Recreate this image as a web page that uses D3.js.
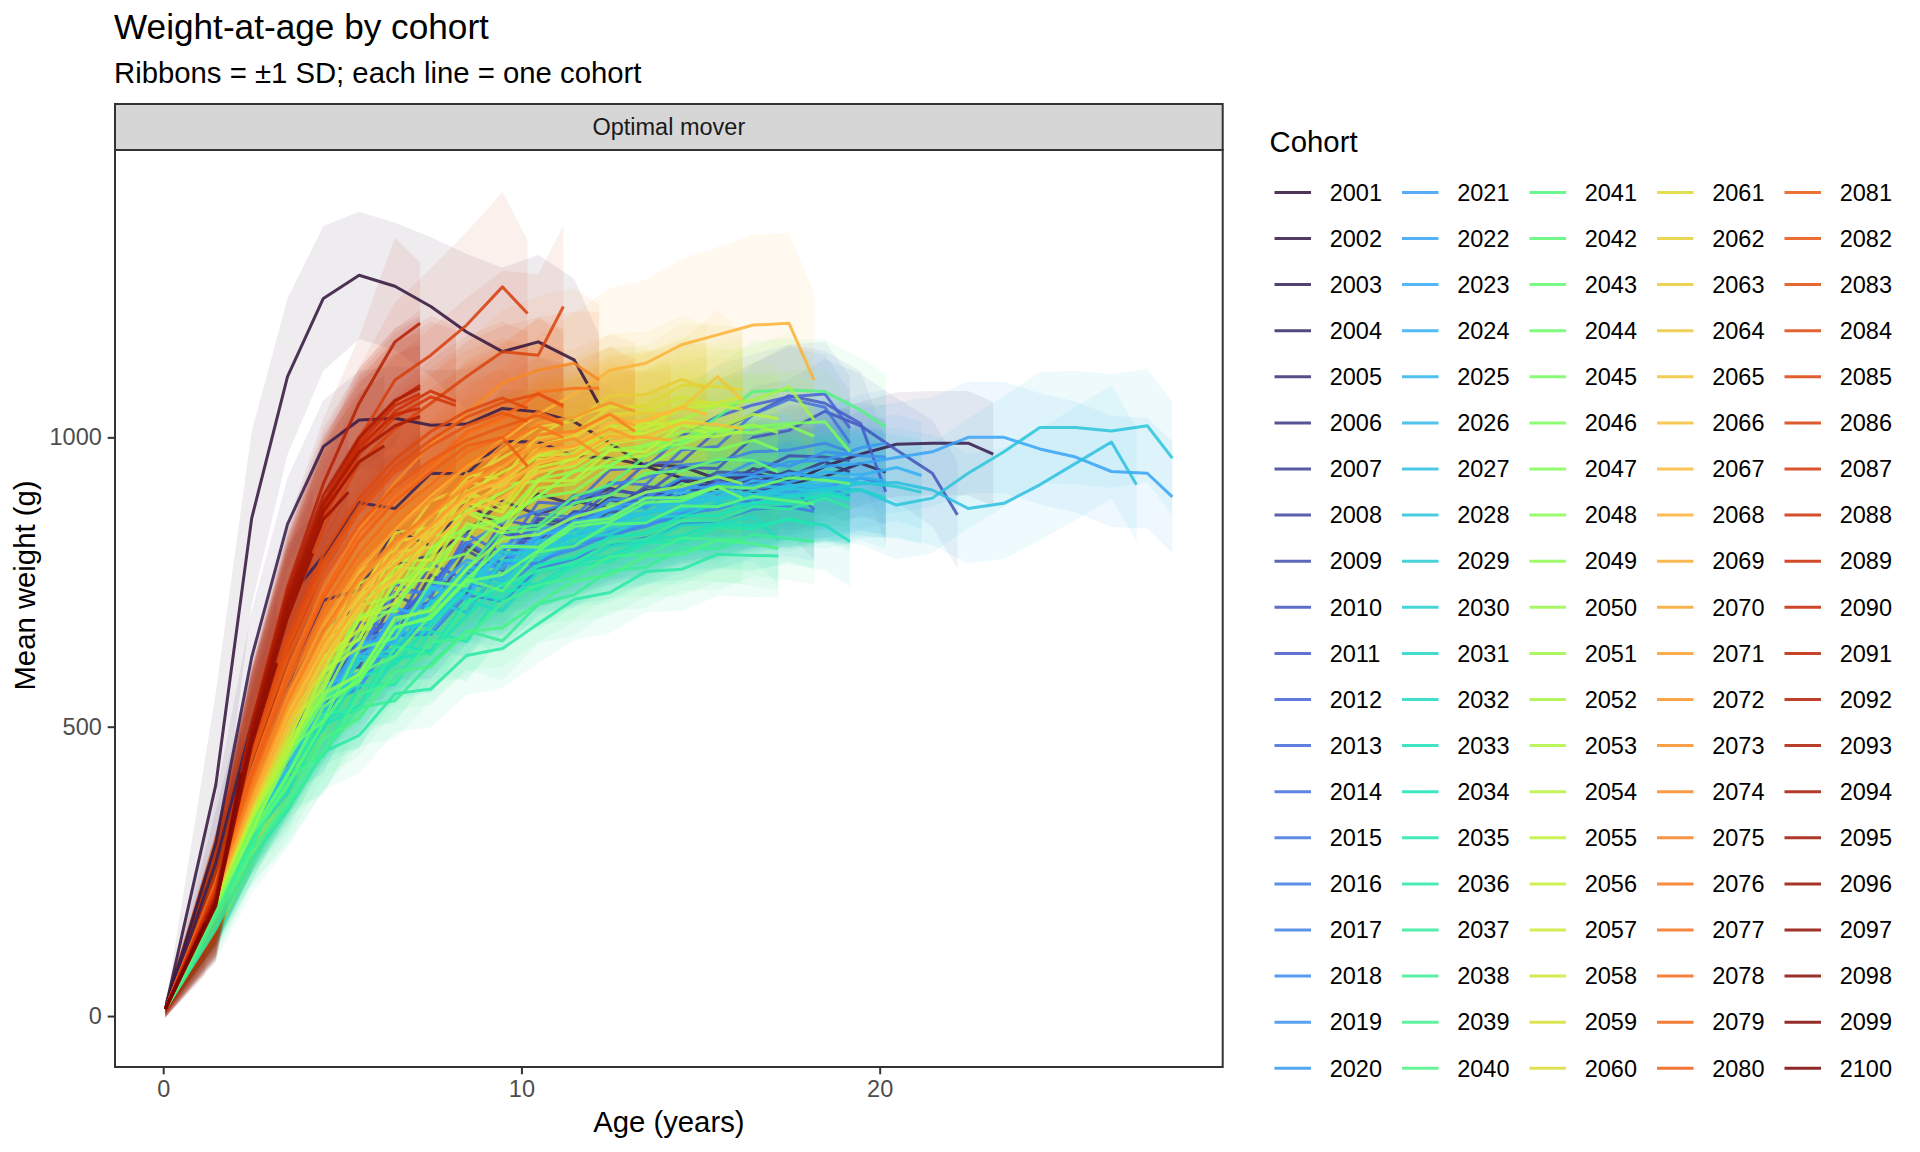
<!DOCTYPE html>
<html><head><meta charset="utf-8">
<script src="https://cdn.jsdelivr.net/npm/d3@7"></script>
<style>body{margin:0;background:#fff} svg text{font-family:"Liberation Sans",Arial,Helvetica,sans-serif}</style>
</head><body><svg id="c" width="1920" height="1152"></svg>
<script>
const cohorts = d3.range(2001, 2101);
const ageMid = [0.06,1.47,2.47,3.47,4.47,5.47,6.47,7.47,8.47,9.47,10.47,11.47,12.47,13.47,14.47,15.47,16.47,17.47,18.47,19.47,20.47,21.47,22.47,23.47,24.47,25.47,26.47,27.47,28.47];
const ageFinal = [0.06,1.17,2.17,3.17,4.17,5.17,6.17,7.17,8.17,9.17,10.17,11.17,12.17,13.17,14.17,15.17,16.17,17.17,18.17,19.17,20.17,21.17,22.17,23.17,24.17,25.17,26.17,27.17,28.17];
const xTicks = [0,10,20];
const yTicks = [0,500,1000];
const xLimits = [-1.3455, 29.5755];
const yLimits = [-88, 1496.5];
const turboStops = ["#30123B","#4662D7","#36AAF9","#1AE4B6","#72FE5E","#C7EF34","#FABA39","#F66B19","#CB2A04","#7A0403"];

const weights = [
[12,400,860,1105,1240,1280,1261,1226,1182,1148,1165,1134,1056],
[12,300,620,850,984,1030,1033,1021,1023,1050,1044,1027,990,950,930,920,915,920,950,971,988,990,990,971],
[12,265,505,720,795,887,877,938,937,993,992,968,964,952,950,928,936,920,932,955,940],
[12,232,428,570,718,737,840,812,887,845,902,884,912,898,926,912,938,924,930],
[12,222,398,566,667,710,782,795,836,890,866,890,878,910,894,918,906,912],
[12,206,355,453,575,655,685,743,812,782,858,852,896,888,926,912,946,932,958,940],
[12,198,335,492,530,665,657,762,731,835,822,870,864,906,898,928,920,942,930],
[12,208,350,438,592,603,727,700,805,770,852,846,892,878,916,902,930,915],
[12,200,332,480,570,620,688,717,765,840,822,872,870,915,908,940,938,968,966,960],
[12,205,350,447,570,647,688,741,818,780,860,856,908,902,948,946,1000,1012,1045,1020,978,938,866],
[12,208,342,502,540,680,673,782,753,857,846,900,900,955,958,1012,1040,1072,1059,1024,906],
[12,212,365,450,610,619,747,724,833,799,888,884,944,948,1002,1036,1056,1070,1075,1016],
[12,195,325,480,565,616,682,717,758,835,812,868,860,904,890,924,910,920,875],
[12,208,356,445,575,647,690,743,820,782,868,862,922,918,978,984,1040,1066,1052,990],
[12,195,322,460,500,623,625,722,697,783,782,815,828,850,862,885,890,912,915,930,920],
[12,190,318,410,535,567,657,660,727,717,772,790,815,826,850,856,876,880,872],
[12,205,350,488,600,630,732,733,816,852,872,888,918,930,952,958,975,978,990,975],
[12,192,325,423,520,615,625,705,748,738,788,806,832,846,868,876,895,900,912,900],
[12,200,345,478,540,643,675,740,753,811,842,850,892,896,930,928,958,950,975,968,966],
[12,202,335,445,565,613,693,712,773,783,826,866,874,905,908,934,936,958,960,982,990],
[12,190,320,445,547,568,662,663,738,780,790,812,838,852,872,882,898,905,918,910],
[12,200,340,440,550,640,662,733,788,772,836,846,880,888,912,915,932,935,950,955,965,975,1000,1000,980,966,941,938,897],
[12,195,328,475,518,645,647,744,723,815,812,856,858,895,892,920,915,938,930,928],
[12,198,338,428,572,593,705,688,781,759,832,840,876,878,905,902,925,922,940,935,948,934],
[12,192,322,450,557,580,675,675,752,795,806,828,852,868,880,895,900,915,918,930,925],
[12,194,332,425,540,623,652,713,778,752,822,828,866,868,898,895,918,912,930,922,918],
[12,195,325,472,515,643,643,740,720,810,808,852,855,885,884,906,900,918,912,920,922,909,877,886,918,955,992,918],
[12,192,330,420,562,585,693,680,770,750,820,830,862,866,892,890,908,900,912,909,883,895,938,975,1017,1017,1011,1020,964],
[12,190,322,455,550,588,668,683,742,802,798,838,842,872,874,896,894,912,906,922,915,905],
[12,188,325,415,525,613,636,703,762,742,806,818,850,855,880,880,900,895,910,895],
[12,192,316,458,495,621,623,718,697,787,788,828,832,862,864,886,884,900,896,910,895],
[12,182,308,385,515,535,640,630,717,700,768,780,812,820,848,850,863,823],
[12,180,296,418,503,533,617,629,692,748,746,784,795,822,830,850,848,857,848,820],
[12,190,314,395,499,585,608,677,736,718,780,792,828,834,864,865,888,885,902,892],
[12,178,292,420,450,571,573,665,647,735,738,778,786,818,820,845,842,860,848],
[12,150,272,355,456,485,557,565,623,635,678,720,732,768,772,798,796,795],
[12,186,308,414,521,530,638,625,714,745,770,782,818,824,856,856,880,876,895,878],
[12,158,288,361,455,533,545,609,666,648,712,728,770,775,808,808,832,825,820],
[12,176,296,408,455,555,579,646,653,715,745,758,794,798,826,824,822],
[12,168,285,370,478,515,595,604,665,671,714,752,762,795,798,822,816,808],
[12,198,322,458,550,592,682,705,772,842,848,898,918,968,990,1035,1079,1082,1079,1047,1018],
[12,184,314,397,507,593,622,693,754,735,802,812,850,852,882,880,898,890,885],
[12,195,325,460,510,635,653,750,743,835,842,886,900,938,942,962,960,940],
[12,194,316,416,534,583,671,690,751,763,804,846,854,888,890,915,912,930,926,920],
[12,192,322,442,545,578,672,687,755,812,810,852,860,895,896,915,895],
[12,202,335,463,563,693,700,809,844,860,898,942,952,988,995,1015,1018,1024,1027,975],
[12,196,338,476,550,665,707,782,799,861,896,906,948,950,982,978,995,978],
[12,204,340,458,592,653,747,774,841,855,898,942,950,985,988,1010,1008,1020,1002],
[12,190,318,450,557,590,688,700,772,825,832,862,880,905,915,932,920],
[12,206,352,457,587,687,728,803,872,858,928,940,978,985,1010,1012,1022,1008],
[12,205,346,508,564,709,725,834,823,919,924,968,982,1018,1030,1056,1064,1087,1030],
[12,198,340,450,596,637,753,752,851,835,912,920,962,968,1000,1002,1010],
[12,206,356,488,623,650,776,771,874,905,940,950,990,998,1022,1008],
[12,200,344,457,575,685,714,795,870,842,925,925,978,975,1022,1015,1040,1032],
[12,208,358,518,592,725,763,845,867,925,968,972,1020,1018,1050,1056,1048],
[12,204,352,468,620,667,787,788,887,871,948,962,1000,1008,1030,1024],
[12,210,362,515,643,692,802,810,905,940,970,982,1015,1025,1022],
[12,206,355,477,597,715,750,830,908,878,962,962,1016,1015,1058,1060,1070],
[12,214,368,532,608,747,781,868,890,955,985,1002,1038,1045,1070,1060],
[12,215,372,500,660,720,835,844,937,927,1004,1036,1053,1053,1019],
[12,212,368,525,655,705,820,830,930,965,998,1008,1052,1055,1090,1088,1082],
[12,210,360,485,607,725,752,835,900,885,955,970,1005,1010],
[12,218,378,548,628,767,805,890,915,977,1018,1028,1072,1074,1100,1085],
[12,215,372,495,650,707,821,830,923,913,985,1000,1036,1042,1040],
[12,212,372,515,628,715,780,835,880,920,955,985,1012,1030,1050,1105,1064],
[12,208,362,500,610,700,762,815,868,895,940,955,992,1000,1025,1022,1015],
[12,214,375,520,638,730,792,845,900,925,975,985,1025,1030,1052,1040],
[12,220,395,550,675,770,840,900,950,995,1040,1075,1116,1128,1160,1177,1194,1197,1099],
[12,210,368,512,625,715,780,825,885,910,958,968,1002,1000,995],
[12,218,385,538,658,752,815,862,922,948,995,1008,1040,1020],
[12,215,380,530,645,738,800,848,905,930,978,985,1015,998],
[12,224,396,552,678,775,840,890,950,975,1025,1035,1060,1045],
[12,220,388,540,662,755,818,868,915,955,985,998,970],
[12,232,425,596,735,840,922,988,1042,1094,1116,1128,1099],
[12,222,392,545,665,760,822,870,935,955,1005,1010,1040,1010],
[12,226,402,562,690,785,850,905,955,992,1020,1000],
[12,230,420,590,725,825,895,945,1005,1030,1078,1085,1085],
[12,228,410,575,705,800,870,918,975,1000,1045,1025],
[12,232,422,595,732,835,905,952,1010,1035,1075,1052],
[12,230,418,585,722,820,890,940,985,1000,950],
[12,222,445,620,755,850,915,960,995,1018,1038,1022],
[12,220,452,635,775,872,940,985,1020,1042,1028],
[12,224,460,645,785,882,950,995,1035,1060,1075,1055],
[12,218,465,655,798,895,962,1010,1045,1068,1050],
[12,218,482,686,842,955,1015,1059,1105,1148,1142,1226],
[12,220,488,698,868,998,1099,1142,1194,1260,1214],
[12,215,490,700,860,970,1035,1070,1055],
[12,212,492,706,868,978,1045,1080,1062],
[12,210,494,712,876,990,1055,1075],
[12,208,496,716,880,985,1040,1050],
[12,206,500,722,888,998,1062,1090],
[12,205,505,740,920,1059,1165,1197],
[12,203,500,730,900,1000,1064,1085],
[12,200,495,720,885,975,1020,1036],
[12,200,490,712,872,958,985],
[12,198,486,702,858,905],
[12,196,478,688,800],
[12,194,468,610],
[12,190,420],
[12,160]
];

const sds = [
[6,160,150,135,125,110,110,120,135,145,150,140,120],
[6,80,80,80,80,85,90,95,95,95,95,95,95,95,90,90,90,90,90,90,90,90,90,90],
[6,90,95,95,95,90,90,90,90,90,90,90,90,90,90,90,90,90,90,90,90],
[6,80,85,85,85,85,85,85,85,85,85,85,85,85,85,85,85,85,85],
[6,75,80,80,80,80,80,80,80,80,80,80,80,80,80,80,80,80],
[6,70,75,78,80,80,80,80,80,80,80,80,82,82,84,84,86,86,88,88],
[6,68,74,78,80,80,80,80,80,80,80,80,82,82,84,84,86,86,86],
[6,70,75,78,80,80,80,80,80,80,80,80,82,82,84,84,86,86],
[6,68,74,78,80,80,80,80,80,80,80,82,82,84,84,86,86,88,88,88],
[6,70,75,78,80,80,80,80,80,80,82,82,84,84,86,86,88,88,90,90,90,92,92],
[6,68,74,78,80,80,80,80,80,80,82,82,84,84,86,86,88,88,90,90,90],
[6,70,75,78,80,80,80,80,80,82,82,84,84,86,86,88,88,90,90,90],
[6,68,74,78,78,78,78,78,78,80,80,80,82,82,84,84,86,86,86],
[6,70,75,78,80,80,80,80,80,82,82,84,84,86,86,88,88,90,90,90],
[6,68,74,78,80,80,80,80,80,80,82,82,84,84,86,86,88,88,88,90,90],
[6,68,72,76,78,78,78,78,78,80,80,80,82,82,84,84,84,86,86],
[6,70,74,78,80,80,80,80,80,80,82,82,84,84,86,86,88,88,88,88],
[6,68,74,78,80,80,80,80,80,80,82,82,84,84,86,86,86,88,88,88],
[6,70,75,78,80,80,80,80,80,80,82,82,84,84,86,86,88,88,90,90,90],
[6,70,75,80,82,82,82,82,82,84,84,86,86,88,88,90,90,92,92,92,92],
[6,68,74,78,80,80,80,80,80,82,82,84,84,86,86,88,88,88,90,90],
[6,70,75,80,82,82,82,82,84,84,86,86,88,88,90,90,92,92,94,94,95,95,96,96,96,96,96,96,96],
[6,68,74,78,80,80,80,80,82,82,84,84,86,86,88,88,88,90,90,90],
[6,70,75,80,82,82,82,82,84,84,86,86,88,88,90,90,90,92,92,92,92,92],
[6,68,74,78,80,80,80,82,82,84,84,86,86,88,88,90,90,90,92,92,92],
[6,68,74,78,80,80,80,82,82,84,84,86,86,88,88,90,90,90,92,92,92],
[6,68,74,78,80,80,80,82,82,84,84,86,86,88,88,90,90,92,92,94,94,95,95,96,96,98,98,98],
[6,68,74,78,80,80,80,82,82,84,84,86,86,88,88,90,90,92,92,94,94,95,95,96,96,98,98,98,98],
[6,66,72,76,78,78,78,80,80,82,82,84,84,86,86,88,88,88,90,90,90,90],
[6,66,72,76,78,78,78,80,80,82,82,84,84,86,86,86,88,88,88,88],
[6,64,70,74,76,76,76,78,78,80,80,82,82,84,84,86,86,86,88,88,88],
[6,60,65,68,70,70,70,70,72,72,72,74,74,74,76,76,76,76],
[6,60,65,68,70,70,70,70,72,72,72,74,74,74,76,76,76,76,78,78],
[6,60,65,68,70,70,70,70,72,72,72,74,74,74,76,76,76,76,78,78],
[6,58,62,66,68,68,68,68,70,70,70,72,72,72,74,74,74,74,76],
[6,55,60,64,66,66,66,66,68,68,68,70,70,70,72,72,72,72],
[6,58,62,66,68,68,68,68,70,70,70,72,72,72,74,74,74,74,76,76],
[6,55,60,64,66,66,66,66,68,68,68,70,70,70,72,72,72,72,74],
[6,58,62,66,68,68,68,68,70,70,70,72,72,72,74,74,74],
[6,56,60,64,66,66,66,66,68,68,68,70,70,70,72,72,72,72],
[6,62,68,72,75,76,78,80,80,82,82,84,84,86,86,88,88,88,90,90,90],
[6,60,65,68,70,70,70,70,72,72,72,74,74,74,76,76,76,76,78],
[6,60,65,68,70,70,70,70,72,72,72,74,74,74,76,76,76,76],
[6,62,66,70,72,72,72,72,74,74,74,76,76,76,78,78,78,78,80,80],
[6,60,65,68,70,70,70,70,72,72,72,74,74,74,76,76,76],
[6,65,72,78,82,84,85,86,86,86,88,88,88,90,90,90,92,92,92,92],
[6,65,72,78,82,84,85,86,86,86,88,88,88,90,90,90,92,92],
[6,66,74,80,84,86,86,86,88,88,88,90,90,90,92,92,92,92,92],
[6,65,72,78,82,84,85,86,86,86,88,88,88,90,90,90,90],
[6,66,74,80,84,86,86,86,88,88,88,90,90,90,92,92,92,92],
[6,68,76,82,86,88,88,88,90,90,90,92,92,92,94,94,94,94,94],
[6,66,74,80,84,86,86,86,88,88,88,90,90,90,92,92,92],
[6,68,76,82,86,88,88,88,90,90,90,92,92,92,94,94],
[6,68,76,82,86,88,88,88,90,90,90,92,92,92,94,94,94,94],
[6,72,80,86,90,92,94,94,94,96,96,98,98,98,100,100,100],
[6,72,80,86,90,92,94,94,94,96,96,98,98,98,100,100],
[6,74,82,88,92,94,96,96,96,98,98,100,100,100,102],
[6,74,82,88,92,94,96,96,96,98,98,100,100,100,102,102,102],
[6,75,84,90,94,96,98,98,98,100,100,102,102,102,104,104],
[6,75,84,90,94,96,98,98,98,100,100,102,102,102,104],
[6,76,85,92,96,98,100,100,100,102,102,104,104,104,106,106,106],
[6,76,85,92,96,98,100,100,100,102,102,104,104,104],
[6,78,87,94,98,100,102,102,104,104,106,106,108,108,110,110],
[6,78,87,94,98,100,102,102,104,104,106,106,108,108,110],
[8,78,86,92,96,100,102,104,106,108,110,112,112,114,116,116,116],
[8,78,86,92,96,100,102,104,106,108,110,112,112,114,114,116,116],
[8,80,88,94,98,102,104,106,108,110,112,114,114,116,116,116],
[8,85,95,104,110,115,120,124,128,132,136,140,142,144,148,152,156,156,150],
[8,80,88,94,98,102,104,106,108,110,112,112,114,114,114],
[8,82,90,96,100,104,106,108,110,112,114,116,116,116],
[8,82,90,96,100,104,106,108,110,112,114,116,116,116],
[8,84,92,98,102,106,108,110,112,114,116,118,118,118],
[8,84,92,98,102,106,108,110,112,114,116,118,118],
[8,86,94,100,106,110,114,118,122,126,128,130,130],
[8,84,92,98,102,106,108,110,112,114,116,118,118,118],
[8,86,94,100,104,108,110,112,114,116,118,118],
[8,88,96,102,108,112,116,120,124,128,130,132,132],
[8,88,96,102,106,110,112,114,116,118,120,120],
[10,90,98,104,108,112,116,120,124,128,130,130],
[10,90,98,104,108,112,114,116,118,120,120],
[10,95,100,105,110,115,120,125,130,130,130,130],
[10,95,100,105,110,115,120,125,130,130,130],
[10,95,100,105,110,115,120,125,130,132,132,132],
[10,95,100,105,110,115,120,125,130,132,132],
[10,96,100,106,112,118,124,130,136,140,140,140],
[12,96,102,108,114,124,134,150,161,164,127],
[12,96,102,108,114,120,126,130,130],
[12,97,102,108,115,120,126,130,130],
[12,97,102,108,115,120,126,130],
[12,98,104,110,116,120,126,130],
[12,98,104,110,116,120,126,130],
[14,98,104,110,112,115,180,105],
[14,98,104,110,116,120,125,125],
[14,98,104,110,116,120,124,124],
[14,98,104,110,116,120,122],
[14,98,104,110,116,120],
[15,98,104,110,112],
[15,98,104,108],
[15,96,100],
[15,90]
];

const svg = d3.select('#c');
const P = {l:115, r:1222.7, t:150, b:1067, st:104};
const x = d3.scaleLinear().domain(xLimits).range([P.l, P.r]);
const y = d3.scaleLinear().domain(yLimits).range([P.b, P.t]);
const color = d3.scaleSequential(d3.piecewise(d3.interpolateRgb, turboStops)).domain([2001, 2100]);

const series = cohorts.map((c, i) => {
  const w = weights[i], s = sds[i];
  const n = Math.min(w.length, s.length);
  const pts = [];
  for (let j = 0; j < n; j++) {
    const a = (j === n - 1 && j > 0) ? ageFinal[j] : ageMid[j];
    pts.push({a, w: w[j], s: s[j]});
  }
  return {c, pts};
});

svg.append('rect').attr('width',1920).attr('height',1152).attr('fill','#fff');

svg.append('text').attr('x',114).attr('y',39).attr('font-size',35.2).attr('fill','#000').text('Weight-at-age by cohort');
svg.append('text').attr('x',114).attr('y',83).attr('font-size',29.3).attr('fill','#000').text('Ribbons = ±1 SD; each line = one cohort');

svg.append('defs').append('clipPath').attr('id','pc').append('rect')
  .attr('x',P.l).attr('y',P.t).attr('width',P.r-P.l).attr('height',P.b-P.t);

const g = svg.append('g').attr('clip-path','url(#pc)');
const area = d3.area().x(d=>x(d.a)).y0(d=>y(d.w-d.s)).y1(d=>y(d.w+d.s));
const line = d3.line().x(d=>x(d.a)).y(d=>y(d.w));

g.append('g').selectAll('path').data(series).join('path')
  .attr('d', d=>area(d.pts)).attr('fill', d=>color(d.c)).attr('fill-opacity',0.08).attr('stroke','none');
g.append('g').selectAll('path').data(series).join('path')
  .attr('d', d=>line(d.pts)).attr('fill','none').attr('stroke', d=>color(d.c))
  .attr('stroke-opacity',0.85).attr('stroke-width',3).attr('stroke-linejoin','round');

svg.append('rect').attr('x',P.l).attr('y',P.t).attr('width',P.r-P.l).attr('height',P.b-P.t)
  .attr('fill','none').attr('stroke','#333').attr('stroke-width',2);
svg.append('rect').attr('x',P.l).attr('y',P.st).attr('width',P.r-P.l).attr('height',P.t-P.st)
  .attr('fill','#D6D6D6').attr('stroke','#333').attr('stroke-width',2);
svg.append('text').attr('x',(P.l+P.r)/2).attr('y',(P.st+P.t)/2).attr('dy','0.35em')
  .attr('text-anchor','middle').attr('font-size',23.5).attr('fill','#1A1A1A').text('Optimal mover');

const ax = svg.append('g').attr('transform',`translate(0,${P.b})`)
  .call(d3.axisBottom(x).tickValues(xTicks).tickSize(7.3).tickPadding(5.9).tickFormat(d3.format('d')));
const ay = svg.append('g').attr('transform',`translate(${P.l},0)`)
  .call(d3.axisLeft(y).tickValues(yTicks).tickSize(7.3).tickPadding(5.9).tickFormat(d3.format('d')));
[ax, ay].forEach(a => {
  a.select('.domain').remove();
  a.selectAll('.tick line').attr('stroke','#333').attr('stroke-width',2);
  a.selectAll('.tick text').attr('fill','#4D4D4D').attr('font-size',23.5)
    .attr('font-family','"Liberation Sans",Arial,Helvetica,sans-serif');
});

svg.append('text').attr('x',(P.l+P.r)/2).attr('y',1132).attr('text-anchor','middle')
  .attr('font-size',29.3).attr('fill','#000').text('Age (years)');
svg.append('text').attr('transform',`translate(35,${(P.st+P.b)/2}) rotate(-90)`).attr('text-anchor','middle')
  .attr('font-size',29.3).attr('fill','#000').text('Mean weight (g)');

const lg = svg.append('g');
lg.append('text').attr('x',1269.6).attr('y',151.5).attr('font-size',29.3).attr('fill','#000').text('Cohort');
cohorts.forEach((c, i) => {
  const col = Math.floor(i / 20), row = i % 20;
  const kx = 1274.5 + col * 127.5, ky = 192.4 + row * 46.1;
  lg.append('line').attr('x1',kx).attr('x2',kx+36.5).attr('y1',ky).attr('y2',ky)
    .attr('stroke',color(c)).attr('stroke-opacity',0.85).attr('stroke-width',3);
  lg.append('text').attr('x',kx+55.2).attr('y',ky).attr('dy','0.35em')
    .attr('font-size',23.5).attr('fill','#000').text(c);
});
</script>
</body></html>
